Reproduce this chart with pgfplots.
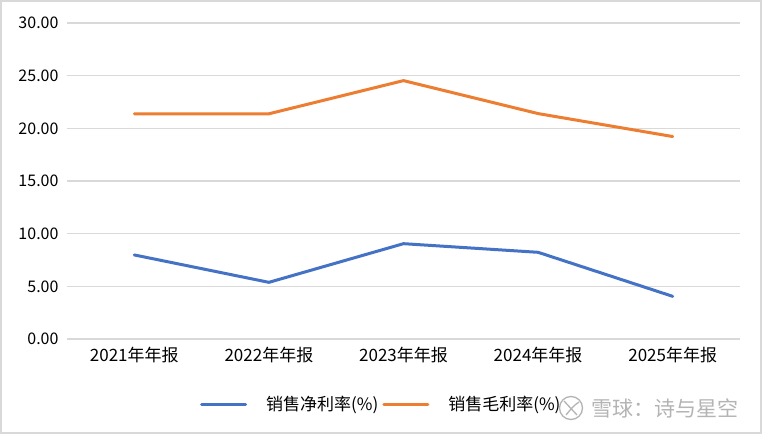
\documentclass[border=0pt]{standalone}
\usepackage{pgfplots}
\pgfplotsset{compat=1.18}
\usepackage{fontspec}
\setmainfont{Noto Sans CJK SC}
\definecolor{cblue}{HTML}{4472C4}
\definecolor{corange}{HTML}{ED7D31}
\definecolor{cgrid}{HTML}{D9D9D9}
\definecolor{wm}{HTML}{B4B4B4}
\begin{document}
\begin{tikzpicture}[x=1pt,y=1pt]
\fill[white] (0,0) rectangle (762,434);
\draw[cgrid,line width=1.6pt] (0.8,0.8) rectangle (761.2,433.2);
\begin{axis}[
  at={(67pt,95pt)}, anchor=south west,
  scale only axis, width=673pt, height=316pt,
  xmin=-0.5, xmax=4.5, ymin=0, ymax=30,
  ytick={0,5,10,15,20,25,30},
  xtick={0,1,2,3,4},
  xticklabels={2021年年报,2022年年报,2023年年报,2024年年报,2025年年报},
  axis line style={draw=none},
  major tick length=0pt,
  ymajorgrids, grid style={cgrid,line width=1.3pt},
  yticklabel style={/pgf/number format/fixed,/pgf/number format/fixed zerofill,/pgf/number format/precision=2,/pgf/number format/assume math mode=true},
  yticklabel style={font=\fontsize{16}{17}\selectfont, xshift=-5pt},
  xticklabel style={font=\fontsize{17}{18}\selectfont, yshift=-5pt},
  legend style={at={(0.467,-0.207)}, anchor=center, draw=none, fill=none,
    legend columns=2, font=\fontsize{17}{18}\selectfont,
    /tikz/every even column/.append style={column sep=2pt}},
  legend cell align=left,
  legend image code/.code={\draw[#1,line cap=round] (0pt,0pt) -- (44pt,0pt);},
]
\addplot[cblue, line width=3pt, line join=round, line cap=round] coordinates {(0,7.98) (1,5.38) (2,9.05) (3,8.23) (4,4.05)};
\addlegendentry{\hspace{17pt}销售净利率(\%)}
\addplot[corange, line width=3pt, line join=round, line cap=round] coordinates {(0,21.38) (1,21.38) (2,24.53) (3,21.4) (4,19.22)};
\addlegendentry{\hspace{17pt}销售毛利率(\%)}
\end{axis}
\draw[wm,line width=1.3pt] (571,26) circle (11.5);
\draw[wm,line width=1.3pt] (564,33) .. controls (570,26) .. (577,19);
\draw[wm,line width=1.3pt] (566,19) .. controls (571,25) and (573,28) .. (579,32);
\node[anchor=west, inner sep=0pt, text=wm, font=\fontsize{21}{22}\selectfont] at (591,26) {雪球：诗与星空};
\end{tikzpicture}
\end{document}
